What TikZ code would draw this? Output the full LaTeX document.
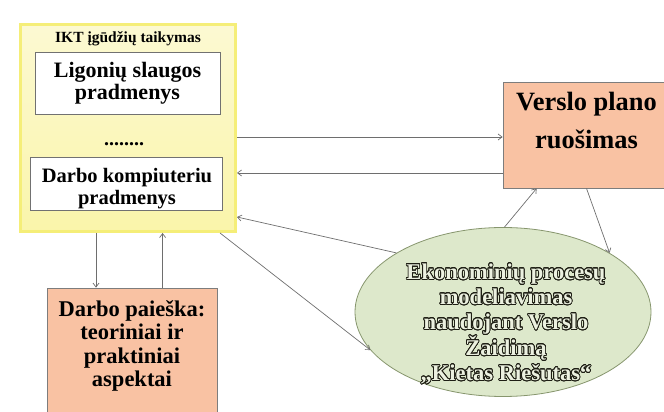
\documentclass[tikz,border=0pt]{standalone}
\usepackage{fontspec}
\setmainfont{Liberation Serif}
\usepackage{contour}
\usetikzlibrary{arrows.meta,shapes.geometric,calc}
\definecolor{yeltop}{RGB}{252,249,210}
\definecolor{yelbot}{RGB}{250,245,170}
\definecolor{yelborder}{RGB}{245,238,120}
\definecolor{salmon}{RGB}{249,194,163}
\definecolor{boxline}{RGB}{125,125,125}
\definecolor{ellfill}{RGB}{221,232,203}
\definecolor{ellline}{RGB}{135,150,110}
\definecolor{ellink}{RGB}{236,241,224}
\definecolor{olcol}{RGB}{30,30,20}
\definecolor{arrowgrey}{RGB}{110,110,110}
\contourlength{0.75pt}
\contournumber{24}
\newcommand\olt[1]{\contour{olcol}{#1}}
\begin{document}
\begin{tikzpicture}[x=1pt,y=1pt,
  conn/.style={draw=arrowgrey, line width=0.7pt, -{Straight Barb[length=4pt,width=6pt]}},
  yelbox/.style={rectangle, top color=yeltop, bottom color=yelbot, draw=yelborder, line width=3pt, minimum width=215, minimum height=207, inner sep=0},
  whitebox/.style={rectangle, fill=white, draw=boxline!90!black, line width=0.9pt, inner sep=0},
  salmonbox/.style={rectangle, fill=salmon, draw=boxline, line width=0.8pt, inner sep=0},
  txt/.style={font=\bfseries, align=center, inner sep=0}
]
\useasboundingbox (0,0) rectangle (664,412);
\clip (0,0) rectangle (664,412);
% yellow container
\node[yelbox] (yel) at (128,284) {};
\node[txt, font=\bfseries\fontsize{15.5}{18}\selectfont, anchor=base] (title) at (128,369) {IKT įgūdžių taikymas};
\node[whitebox, minimum width=185, minimum height=62, txt, font=\bfseries\fontsize{22}{22}\selectfont] (box1) at (127.5,329) {Ligonių slaugos\\pradmenys};
\node[txt, font=\bfseries\fontsize{20}{22}\selectfont, anchor=base] (dots) at (124,266) {........};
\node[whitebox, minimum width=192, minimum height=53] (box2) at (126,228.5) {};
\node[txt, font=\bfseries\fontsize{20.5}{22}\selectfont] (box2t) at (127,223.8) {Darbo kompiuteriu\\pradmenys};
% right box
\node[salmonbox, minimum width=167, minimum height=106] (verslo) at (586.5,277) {};
\node[txt, font=\bfseries\fontsize{26.4}{38}\selectfont] (versloT) at (586.5,291.9) {Verslo plano\\ruošimas};
% bottom-left box
\node[salmonbox, minimum width=170, minimum height=132] (darbo) at (132,58) {};
\node[txt, font=\bfseries\fontsize{22.5}{23.3}\selectfont] (darboT) at (132,66.1) {Darbo paieška:\\teoriniai ir\\praktiniai\\aspektai};
% ellipse
\node[ellipse, fill=ellfill, draw=ellline, line width=0.8pt, minimum width=296, minimum height=169, inner sep=0] (ell) at (503,100) {};
\node[txt, font=\bfseries\fontsize{22.5}{25}\selectfont, text=ellink] (ellT) at (506,87.8) {\olt{Ekonominių procesų}\\\olt{modeliavimas}\\\olt{naudojant Verslo}\\\olt{Žaidimą}\\\olt{„Kietas Riešutas“}};
% connectors
\draw[conn] (yel.east |- 0,275) -- (verslo.west |- 0,275);
\draw[conn] (verslo.west |- 0,239) -- (yel.east |- 0,239);
\draw[conn] (ell.151) -- (yel.east |- 0,195);
\draw[conn] (ell.89) -- ($(verslo.south west)+(34,0)$);
\draw[conn] (verslo.south) -- (ell.29);
\draw[conn] ($(yel.south east)+(-17,0)$) -- (ell.196);
\coordinate (d1) at ($(yel.south west)+(77,0)$);
\draw[conn] (d1) -- (d1 |- darbo.north);
\coordinate (u1) at ($(darbo.north west)+(116,0)$);
\draw[conn] (u1) -- (u1 |- yel.south);
\end{tikzpicture}
\end{document}
